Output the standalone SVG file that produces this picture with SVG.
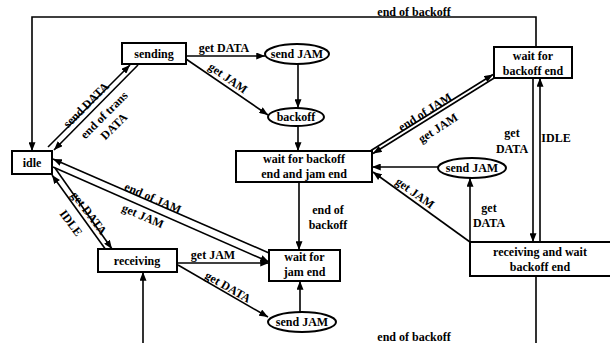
<svg xmlns="http://www.w3.org/2000/svg" width="610" height="343" viewBox="0 0 610 343">
<style>
.n{fill:#fff;stroke:#000;stroke-width:2}
.t{font-family:"Liberation Serif","Times New Roman",serif;font-size:12px;font-weight:bold;fill:#000;text-anchor:middle}
.c{fill:none;stroke:#000;stroke-width:1.6}
.a{marker-end:url(#arr)}
</style>
<defs>
<marker id="arr" viewBox="0 0 10 8" refX="10" refY="4" markerWidth="9" markerHeight="7" orient="auto" markerUnits="userSpaceOnUse">
<path d="M0,0 L10,4 L0,8 z" fill="#000"/>
</marker>
</defs>
<rect width="610" height="343" fill="#fff"/>
<g id="connectors">
<path class="c a" d="M48,147 L130,65"/>
<path class="c a" d="M138,65 L54,150"/>
<path class="c a" d="M186,56 L265,56"/>
<path class="c a" d="M186,59 L268,115"/>
<path class="c a" d="M298,64 L298,108"/>
<path class="c a" d="M298,126 L298,151"/>
<path class="c a" d="M299,182 L299,250"/>
<path class="c a" d="M300,312 L300,281"/>
<path class="c a" d="M177,263 L269,263"/>
<path class="c a" d="M178,265 L268,317"/>
<path class="c a" d="M536,276 L536,350 L143,350 L143,272"/>
<path class="c a" d="M55,168 L112,249"/>
<path class="c a" d="M106,250 L52,175"/>
<path class="c a" d="M269,253 L53,159"/>
<path class="c a" d="M53,167 L269,262"/>
<path class="c a" d="M536,47 L536,17 L32,17 L32,151"/>
<path class="c a" d="M371,150.5 L493,74.5"/>
<path class="c a" d="M495,77.5 L373,153.5"/>
<path class="c a" d="M533,78 L533,242"/>
<path class="c a" d="M540,242 L540,78"/>
<path class="c a" d="M438,167 L372,167"/>
<path class="c a" d="M470,242 L373,172"/>
<path class="c a" d="M470,242 L470,178"/>
<g id="labels">
<text class="t" x="224" y="52">get DATA</text>
<text class="t" x="228" y="82" transform="rotate(35 228 78)">get JAM</text>
<text class="t" x="86" y="109" transform="rotate(-45 86 105)">send DATA</text>
<g transform="rotate(-45 104 115)">
<text class="t" x="104" y="119">end of trans</text>
<text class="t" x="103" y="134">DATA</text>
</g>
<text class="t" x="153" y="202" transform="rotate(23.5 153 198)">end of JAM</text>
<text class="t" x="143" y="220" transform="rotate(23.5 143 216)">get JAM</text>
<text class="t" x="89" y="217" transform="rotate(53 89 213)">get DATA</text>
<text class="t" x="71" y="227" transform="rotate(53 71 223)">IDLE</text>
<text class="t" x="213" y="259">get JAM</text>
<text class="t" x="228" y="291" transform="rotate(30 228 287)">get DATA</text>
<text class="t" x="328" y="214">end of</text>
<text class="t" x="328" y="229">backoff</text>
<text class="t" x="414" y="16">end of backoff</text>
<text class="t" x="425" y="116" transform="rotate(-32.5 425 112)">end of JAM</text>
<text class="t" x="438" y="132" transform="rotate(-32.5 438 128)">get JAM</text>
<text class="t" x="512" y="137">get</text>
<text class="t" x="512" y="153">DATA</text>
<text class="t" x="556" y="142">IDLE</text>
<text class="t" x="415" y="197" transform="rotate(36 415 193)">get JAM</text>
<text class="t" x="489" y="212">get</text>
<text class="t" x="489" y="227">DATA</text>
<text class="t" x="414" y="341">end of backoff</text>
</g>
</g>
<g id="idle"><rect class="n" x="12" y="151" width="40" height="23"/><text class="t" x="32" y="167">idle</text></g>
<g id="sending"><rect class="n" x="122" y="43" width="64" height="21"/><text class="t" x="154" y="58">sending</text></g>
<g id="sendjam1"><ellipse class="n" cx="297" cy="54" rx="32" ry="10"/><text class="t" x="297" y="58">send JAM</text></g>
<g id="backoff"><ellipse class="n" cx="296" cy="117" rx="28" ry="9"/><text class="t" x="296" y="121">backoff</text></g>
<g id="waitboth"><rect class="n" x="236" y="151" width="136" height="31"/><text class="t" x="304" y="163">wait for backoff</text><text class="t" x="304" y="178">end and jam end</text></g>
<g id="waitjam"><rect class="n" x="269" y="250" width="71" height="31"/><text class="t" x="304.5" y="261">wait for</text><text class="t" x="304.5" y="276">jam end</text></g>
<g id="sendjam2"><ellipse class="n" cx="302" cy="322" rx="34" ry="10"/><text class="t" x="302" y="326">send JAM</text></g>
<g id="receiving"><rect class="n" x="98" y="249" width="79" height="23"/><text class="t" x="137" y="265">receiving</text></g>
<g id="waitbackoff"><rect class="n" x="494" y="47" width="78" height="31"/><text class="t" x="533" y="60">wait for</text><text class="t" x="533" y="75">backoff end</text></g>
<g id="sendjam3"><ellipse class="n" cx="472" cy="168" rx="34" ry="10"/><text class="t" x="472" y="172">send JAM</text></g>
<g id="recvwait"><rect class="n" x="470" y="242" width="142" height="34"/><text class="t" x="540" y="256">receiving and wait</text><text class="t" x="540" y="271">backoff end</text></g>
</svg>
